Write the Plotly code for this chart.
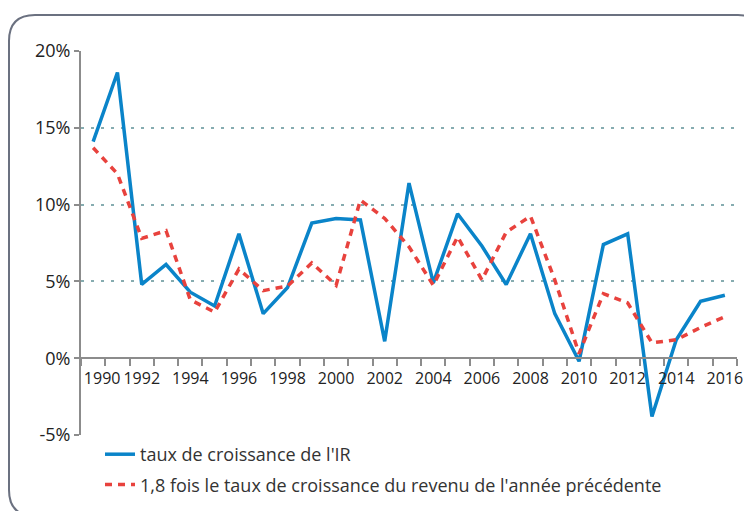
import plotly.graph_objects as go

annees = list(range(1990, 2017))
taux_ir = [14.1, 18.6, 4.8, 6.1, 4.3, 3.4, 8.1, 2.9, 4.6, 8.8, 9.1, 9.0, 1.1, 11.4,
           4.9, 9.4, 7.3, 4.8, 8.1, 2.9, -0.2, 7.4, 8.1, -3.8, 1.2, 3.7, 4.1]
revenu_18 = [13.7, 12.0, 7.8, 8.3, 3.8, 3.0, 5.8, 4.4, 4.7, 6.2, 4.75, 10.3, 9.1, 7.25,
             4.75, 7.9, 5.1, 8.2, 9.25, 5.1, 0.3, 4.2, 3.6, 1.0, 1.2, 2.0, 2.7]
y_ticks = [-5, 0, 5, 10, 15, 20]
y_labels = ["-5%", "0%", "5%", "10%", "15%", "20%"]
x_labels = [str(a) for a in range(1990, 2017, 2)]

# la page a une marge de 8 px autour de la figure
OFF = 8
W, H = 752 - OFF, 511 - OFF
L, R, T, B = 81 - OFF, 15, 51 - OFF, 76
pw, ph = W - L - R, H - T - B


def px(x):
    return (x - OFF - L) / pw


def py(y):
    return (H - B - (y - OFF)) / ph


fig = go.Figure()
fig.add_trace(go.Scatter(x=annees, y=taux_ir, mode="lines", name="taux de croissance de l'IR",
                         line=dict(color="#0a84c9", width=3.5), legendgroup="a"))
fig.add_trace(go.Scatter(x=annees, y=revenu_18, mode="lines",
                         name="1,8 fois le taux de croissance du revenu de l'année précédente",
                         line=dict(color="#e8423d", width=3.5, dash="7px,6px"), legendgroup="b"))

# cadre arrondi
x0, x1, y0, y1 = px(9), px(764), py(15), py(516)
rx, ry = 26 / pw, 26 / ph
path = (f"M {x0+rx},{y0} L {x1-rx},{y0} Q {x1},{y0} {x1},{y0-ry} "
        f"L {x1},{y1+ry} Q {x1},{y1} {x1-rx},{y1} L {x0+rx},{y1} "
        f"Q {x0},{y1} {x0},{y1+ry} L {x0},{y0-ry} Q {x0},{y0} {x0+rx},{y0} Z")
fig.add_shape(type="path", path=path, xref="paper", yref="paper",
              line=dict(color="#6b7180", width=2), layer="below")

tickpos = [1990.37] + list(range(1992, 2017, 2))
fig.update_layout(
    width=W, height=H, margin=dict(l=L, r=R, t=T, b=B, autoexpand=False),
    plot_bgcolor="white", paper_bgcolor="white",
    font=dict(family="Open Sans", color="#222"),
    xaxis=dict(range=[1989.5, 2016.5], tickvals=tickpos, ticktext=x_labels, ticks="",
               showgrid=False, zeroline=False, showline=True, linecolor="#8c8c8c", linewidth=2,
               anchor="free", position=0.2, tickfont=dict(size=16), automargin=False,
               ticklabelstandoff=6,
               minor=dict(tick0=1989.5, dtick=1, ticks="outside", ticklen=7,
                          tickcolor="#8c8c8c", tickwidth=2, showgrid=False)),
    yaxis=dict(range=[-5, 20], tickvals=y_ticks, ticktext=y_labels, ticks="outside",
               ticklen=5, tickcolor="#8c8c8c", tickwidth=2, showline=True,
               linecolor="#8c8c8c", linewidth=2, zeroline=False, showgrid=True,
               gridcolor="#86acb0", griddash="3px,7px", gridwidth=1.5,
               tickfont=dict(size=18), automargin=False),
    legend=dict(x=px(100), y=py(436), xanchor="left", yanchor="top", font=dict(size=18, color="#333"),
                traceorder="grouped", tracegroupgap=4, bgcolor="rgba(0,0,0,0)"),
    showlegend=True,
)

fig.write_html("out.html")
